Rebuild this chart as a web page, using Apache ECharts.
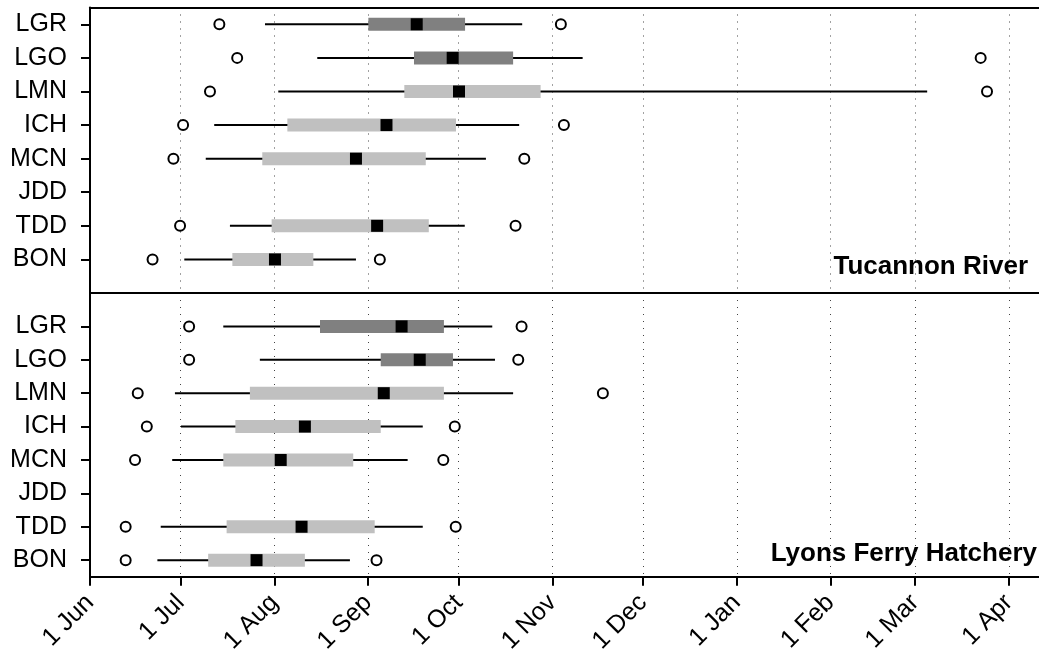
<!DOCTYPE html>
<html><head><meta charset="utf-8">
<script src="https://cdn.jsdelivr.net/npm/echarts@6/dist/echarts.min.js"></script>
<style>html,body{margin:0;padding:0;background:#fff}#c{width:1039px;height:656px}</style>
</head><body><div id="c"></div>
<script>
// Categories bottom -> top
const categories = ['BON', 'TDD', 'JDD', 'MCN', 'ICH', 'LMN', 'LGO', 'LGR'];
// X axis: days since 1 Jun
const monthLabels = ['1 Jun', '1 Jul', '1 Aug', '1 Sep', '1 Oct', '1 Nov', '1 Dec', '1 Jan', '1 Feb', '1 Mar', '1 Apr'];
const monthDays = [0, 30, 61, 92, 122, 153, 183, 214, 245, 273, 304];
const darkBoxes = ['LGO', 'LGR'];

// Tucannon River (days since 1 Jun), null = no data
const tucLowWhisker  = [31.2, 46.3, null, 38.3, 41.1, 62.3, 75.2, 57.9];
const tucQ1          = [47.1, 60.1, null, 57.0, 65.3, 104.0, 107.2, 92.1];
const tucMedian      = [61.2, 95.0, null, 88.0, 98.1, 122.1, 120.0, 108.1];
const tucQ3          = [73.9, 112.1, null, 111.1, 121.1, 149.1, 140.0, 124.1];
const tucHighWhisker = [88.0, 124.0, null, 131.0, 142.0, 277.0, 163.0, 143.0];
const tucOutLow      = [20.7, 29.8, null, 27.6, 30.8, 39.7, 48.7, 42.8];
const tucOutHigh     = [95.9, 140.8, null, 143.7, 156.8, 296.8, 294.7, 155.8];

// Lyons Ferry Hatchery
const lfhLowWhisker  = [22.3, 23.4, null, 27.2, 30.1, 28.1, 56.2, 44.1];
const lfhQ1          = [39.1, 45.2, null, 44.1, 48.1, 52.9, 96.2, 76.1];
const lfhMedian      = [55.1, 70.0, null, 63.1, 71.1, 97.2, 109.1, 103.1];
const lfhQ3          = [71.1, 94.2, null, 87.1, 96.2, 117.1, 120.1, 117.1];
const lfhHighWhisker = [86.0, 110.1, null, 105.1, 110.1, 140.0, 134.0, 133.1];
const lfhOutLow      = [11.8, 11.8, null, 14.9, 18.8, 15.8, 32.8, 32.8];
const lfhOutHigh     = [94.8, 121.0, null, 116.9, 120.7, 169.7, 141.7, 142.8];

const X_MAX = 314;
const FONT = '"Liberation Sans", Arial, sans-serif';
const catValues = categories.map((c, i) => i + 1);

function boxData(lo, q1, med, q3, hi) {
  const out = [];
  categories.forEach((c, i) => {
    if (med[i] == null) return;
    out.push([i + 1, lo[i], q1[i], med[i], q3[i], hi[i], darkBoxes.includes(c) ? 1 : 0]);
  });
  return out;
}
function outlierData(lowArr, highArr) {
  const out = [];
  categories.forEach((c, i) => {
    if (lowArr[i] != null) out.push([lowArr[i], i + 1]);
    if (highArr[i] != null) out.push([highArr[i], i + 1]);
  });
  return out;
}
function renderBox(params, api) {
  const y = api.value(0);
  const pLo = api.coord([api.value(1), y]);
  const pQ1 = api.coord([api.value(2), y]);
  const pMed = api.coord([api.value(3), y]);
  const pQ3 = api.coord([api.value(4), y]);
  const pHi = api.coord([api.value(5), y]);
  const fill = api.value(6) ? '#808080' : '#c0c0c0';
  const bh = 13, mh = 12;
  return {
    type: 'group',
    children: [
      { type: 'line', shape: { x1: pLo[0], y1: pLo[1], x2: pHi[0], y2: pHi[1] }, style: { stroke: '#000', lineWidth: 2 } },
      { type: 'rect', shape: { x: pQ1[0], y: pQ1[1] - bh / 2, width: pQ3[0] - pQ1[0], height: bh }, style: { fill: fill } },
      { type: 'rect', shape: { x: pMed[0] - mh / 2, y: pMed[1] - mh / 2, width: mh, height: mh }, style: { fill: '#000' } }
    ]
  };
}

const axisLineStyle = { color: '#000', width: 2 };
const splitDotted = { show: true, lineStyle: { type: [1, 6], color: '#444', width: 1 } };

function yAxis(gridIndex, min, max) {
  return {
    gridIndex, type: 'value', min, max,
    axisLine: { show: true, onZero: false, lineStyle: axisLineStyle },
    axisTick: { show: true, inside: false, length: 9, customValues: catValues, lineStyle: axisLineStyle },
    axisLabel: {
      show: true, customValues: catValues, margin: 23, fontSize: 25, color: '#000', fontFamily: FONT,
      formatter: v => categories[Math.round(v) - 1]
    },
    splitLine: { show: false }
  };
}

const option = {
  animation: false,
  backgroundColor: '#fff',
  grid: [
    { left: 90, right: 0, top: 7.5, height: 285.5 },
    { left: 90, right: 0, top: 293, height: 284.7 }
  ],
  xAxis: [
    {
      gridIndex: 0, type: 'value', min: 0, max: X_MAX, position: 'top',
      axisLine: { show: true, onZero: false, lineStyle: axisLineStyle },
      axisTick: { show: false, customValues: monthDays },
      axisLabel: { show: false, customValues: monthDays },
      splitLine: splitDotted
    },
    {
      gridIndex: 1, type: 'value', min: 0, max: X_MAX, position: 'top',
      axisLine: { show: true, onZero: false, lineStyle: axisLineStyle },
      axisTick: { show: false }, axisLabel: { show: false }, splitLine: { show: false }
    },
    {
      gridIndex: 1, type: 'value', min: 0, max: X_MAX, position: 'bottom',
      axisLine: { show: true, onZero: false, lineStyle: axisLineStyle },
      axisTick: { show: true, length: 9, customValues: monthDays, lineStyle: axisLineStyle },
      axisLabel: {
        show: true, customValues: monthDays, rotate: 45, margin: 22, padding: [16, 0, 0, 0],
        fontSize: 25, color: '#000', fontFamily: FONT,
        formatter: v => monthLabels[monthDays.indexOf(Math.round(v))]
      },
      splitLine: splitDotted
    }
  ],
  yAxis: [yAxis(0, 0, 8.5), yAxis(1, 0.5, 9)],
  graphic: [
    { type: 'text', right: 11, top: 254, style: { text: 'Tucannon River', font: 'bold 26px ' + FONT, fill: '#000' } },
    { type: 'text', right: 2, top: 541, style: { text: 'Lyons Ferry Hatchery', font: 'bold 26px ' + FONT, fill: '#000' } }
  ],
  series: [
    {
      type: 'custom', xAxisIndex: 0, yAxisIndex: 0, renderItem: renderBox,
      encode: { x: [1, 2, 3, 4, 5], y: 0 }, data: boxData(tucLowWhisker, tucQ1, tucMedian, tucQ3, tucHighWhisker), z: 2
    },
    {
      type: 'scatter', xAxisIndex: 0, yAxisIndex: 0, symbol: 'circle', symbolSize: 10,
      itemStyle: { color: '#fff', borderColor: '#000', borderWidth: 2, opacity: 1 },
      data: outlierData(tucOutLow, tucOutHigh), z: 3
    },
    {
      type: 'custom', xAxisIndex: 2, yAxisIndex: 1, renderItem: renderBox,
      encode: { x: [1, 2, 3, 4, 5], y: 0 }, data: boxData(lfhLowWhisker, lfhQ1, lfhMedian, lfhQ3, lfhHighWhisker), z: 2
    },
    {
      type: 'scatter', xAxisIndex: 2, yAxisIndex: 1, symbol: 'circle', symbolSize: 10,
      itemStyle: { color: '#fff', borderColor: '#000', borderWidth: 2, opacity: 1 },
      data: outlierData(lfhOutLow, lfhOutHigh), z: 3
    }
  ]
};

const chart = echarts.init(document.getElementById('c'), null, { renderer: 'canvas' });
chart.setOption(option);
</script>
</body></html>
